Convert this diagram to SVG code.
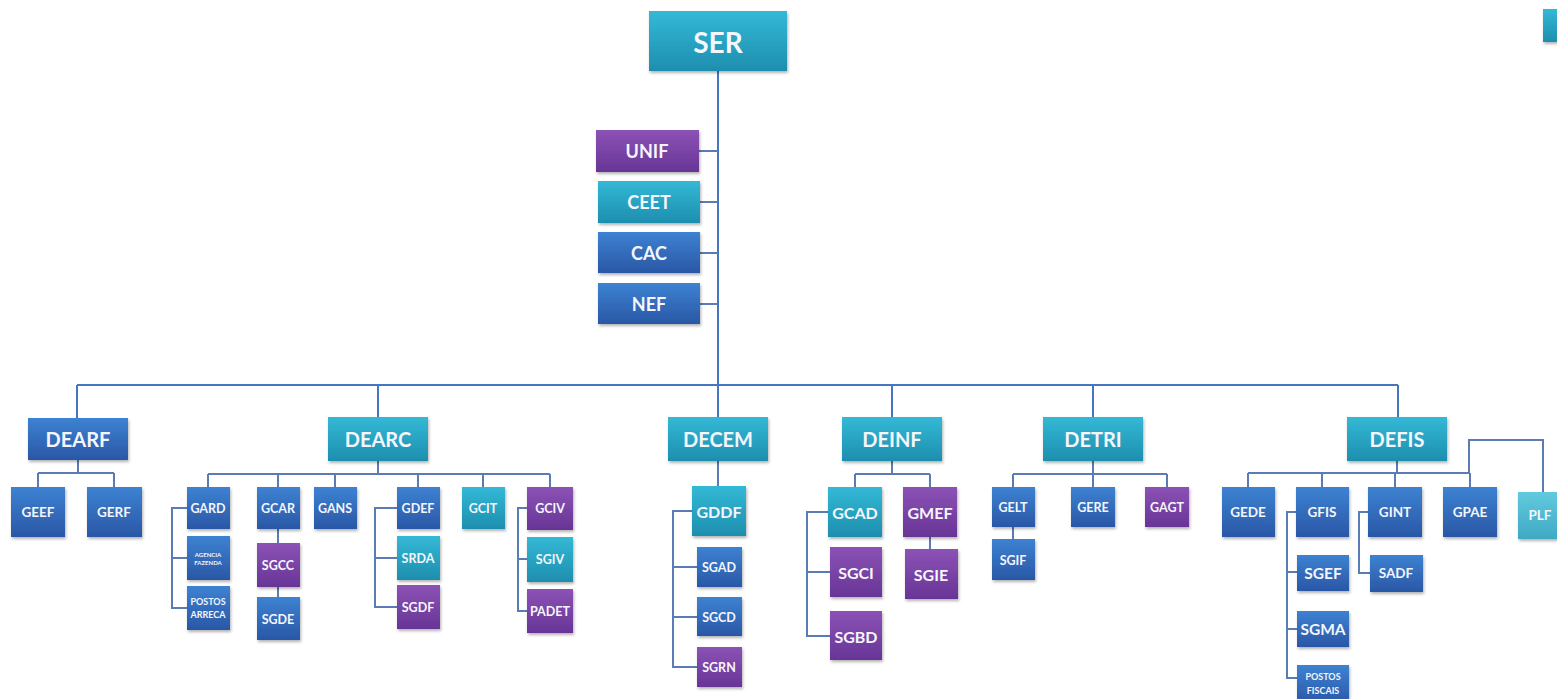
<svg xmlns="http://www.w3.org/2000/svg" width="1557" height="699" viewBox="0 0 1557 699">
<defs>
<linearGradient id="gb" x1="0" y1="0" x2="0" y2="1"><stop offset="0" stop-color="#3d82d2"/><stop offset="1" stop-color="#2a57a6"/></linearGradient>
<linearGradient id="gt" x1="0" y1="0" x2="0" y2="1"><stop offset="0" stop-color="#33b9d6"/><stop offset="1" stop-color="#1e8eae"/></linearGradient>
<linearGradient id="gp" x1="0" y1="0" x2="0" y2="1"><stop offset="0" stop-color="#8c52b5"/><stop offset="1" stop-color="#673596"/></linearGradient>
<linearGradient id="gl" x1="0" y1="0" x2="0" y2="1"><stop offset="0" stop-color="#62cade"/><stop offset="1" stop-color="#3fa9c4"/></linearGradient>
<filter id="sh" x="-20%" y="-20%" width="150%" height="150%"><feDropShadow dx="1" dy="2" stdDeviation="1.6" flood-color="#000" flood-opacity="0.3"/></filter>
</defs>
<style>
.b{fill:url(#gb);filter:url(#sh)}
.t{fill:url(#gt);filter:url(#sh)}
.p{fill:url(#gp);filter:url(#sh)}
.l{fill:url(#gl);filter:url(#sh)}
text{font-family:"Lato","Open Sans","DejaVu Sans",sans-serif;font-weight:bold;fill:#f4f6fb;text-anchor:middle;dominant-baseline:central}
.c{fill:none;stroke:#5a7bb3;stroke-width:2}
.m{fill:none;stroke:#4676c2;stroke-width:2}
.xl{font-size:28px}.lg{font-size:20px}.ml{font-size:18px}.md{font-size:16px}.s2{font-size:13.5px}.sm{font-size:12.5px}.xs{font-size:9px}.xxs{font-size:6px}.sg{font-size:15.5px}
</style>
<rect width="1557" height="699" fill="#ffffff"/>
<g id="connectors">
<path class="m" d="M718 71V417M77 385H1398M77 385V418M378 385V417M892 385V417M1093 385V417M1398 385V417"/>
<path class="c" d="M699 151H718M700 202H718M700 253H718M700 304H718"/>
<path class="c" d="M78 460V473M38 473H114M38 473V487M114 473V487"/>
<path class="c" d="M378 461V474M208 474H550M208 474V487M278 474V487M335 474V487M418 474V487M483 474V487M550 474V487"/>
<path class="c" d="M187 508H172V608H187M172 558H187M278 529V543M278 587V597M397 508H375V607H397M375 558H397M527 508H518V611H527M518 559H527"/>
<path class="c" d="M718 461V486M692 511H673V667H697M673 567H697M673 617H697"/>
<path class="c" d="M892 461V474M855 474H930M855 474V487M930 474V487M828 512H807V636H830M807 572H830M930 537V549"/>
<path class="c" d="M1093 461V474M1013 474H1167M1013 474V487M1093 474V487M1167 474V487M1013 527V539"/>
<path class="c" d="M1397 461V473M1248 473H1470M1248 473V487M1322 473V487M1395 473V487M1470 473V487M1469 473V440H1543V492"/>
<path class="c" d="M1296 512H1287V678H1297M1287 572H1297M1287 629H1297M1368 512H1359V573H1370"/>
</g>
<g id="n-ser"><rect class="t" x="649" y="11" width="138" height="60"/><text class="xl" x="718" y="42">SER</text></g>
<g id="n-unif"><rect class="p" x="596" y="130" width="103" height="42"/><text class="ml" x="647" y="151">UNIF</text></g>
<g id="n-ceet"><rect class="t" x="598" y="181" width="102" height="42"/><text class="ml" x="649" y="202">CEET</text></g>
<g id="n-cac"><rect class="b" x="598" y="232" width="102" height="41"/><text class="ml" x="649" y="253">CAC</text></g>
<g id="n-nef"><rect class="b" x="598" y="283" width="102" height="41"/><text class="ml" x="649" y="304">NEF</text></g>
<g id="n-corner"><rect class="t" x="1543" y="9" width="20" height="33"/></g>

<g id="n-dearf"><rect class="b" x="28" y="418" width="100" height="42"/><text class="lg" x="78" y="439">DEARF</text></g>
<g id="n-geef"><rect class="b" x="11" y="487" width="54" height="50"/><text class="s2" x="38" y="512">GEEF</text></g>
<g id="n-gerf"><rect class="b" x="87" y="487" width="55" height="50"/><text class="s2" x="114" y="512">GERF</text></g>

<g id="n-dearc"><rect class="t" x="328" y="417" width="100" height="44"/><text class="lg" x="378" y="439">DEARC</text></g>
<g id="n-gard"><rect class="b" x="187" y="487" width="43" height="42"/><text class="sm" x="208" y="508">GARD</text></g>
<g id="n-agencia"><rect class="b" x="187" y="536" width="43" height="44"/><text class="xxs" x="208" y="554">AGENCIA</text><text class="xxs" x="208" y="562">FAZENDA</text></g>
<g id="n-postos-arreca"><rect class="b" x="187" y="586" width="43" height="44"/><text class="xs" x="208" y="601">POSTOS</text><text class="xs" x="208" y="614">ARRECA</text></g>
<g id="n-gcar"><rect class="b" x="257" y="487" width="43" height="42"/><text class="sm" x="278" y="508">GCAR</text></g>
<g id="n-sgcc"><rect class="p" x="257" y="543" width="43" height="44"/><text class="sm" x="278" y="565">SGCC</text></g>
<g id="n-sgde"><rect class="b" x="257" y="597" width="43" height="43"/><text class="sm" x="278" y="619">SGDE</text></g>
<g id="n-gans"><rect class="b" x="314" y="487" width="43" height="42"/><text class="sm" x="335" y="508">GANS</text></g>
<g id="n-gdef"><rect class="b" x="397" y="487" width="43" height="42"/><text class="sm" x="418" y="508">GDEF</text></g>
<g id="n-srda"><rect class="t" x="397" y="536" width="43" height="44"/><text class="sm" x="418" y="558">SRDA</text></g>
<g id="n-sgdf"><rect class="p" x="397" y="585" width="43" height="44"/><text class="sm" x="418" y="607">SGDF</text></g>
<g id="n-gcit"><rect class="t" x="462" y="487" width="43" height="42"/><text class="sm" x="483" y="508">GCIT</text></g>
<g id="n-gciv"><rect class="p" x="527" y="487" width="46" height="43"/><text class="sm" x="550" y="508">GCIV</text></g>
<g id="n-sgiv"><rect class="t" x="527" y="537" width="46" height="45"/><text class="sm" x="550" y="559">SGIV</text></g>
<g id="n-padet"><rect class="p" x="527" y="589" width="46" height="44"/><text class="sm" x="550" y="611">PADET</text></g>

<g id="n-decem"><rect class="t" x="668" y="417" width="100" height="44"/><text class="lg" x="718" y="439">DECEM</text></g>
<g id="n-gddf"><rect class="t" x="692" y="486" width="54" height="50"/><text class="md" x="719" y="511">GDDF</text></g>
<g id="n-sgad"><rect class="b" x="697" y="547" width="45" height="40"/><text class="sm" x="719" y="567">SGAD</text></g>
<g id="n-sgcd"><rect class="b" x="697" y="597" width="45" height="39"/><text class="sm" x="719" y="617">SGCD</text></g>
<g id="n-sgrn"><rect class="p" x="697" y="647" width="45" height="40"/><text class="sm" x="719" y="667">SGRN</text></g>

<g id="n-deinf"><rect class="t" x="842" y="417" width="100" height="44"/><text class="lg" x="892" y="439">DEINF</text></g>
<g id="n-gcad"><rect class="t" x="828" y="487" width="54" height="50"/><text class="md" x="855" y="512">GCAD</text></g>
<g id="n-gmef"><rect class="p" x="903" y="487" width="54" height="50"/><text class="md" x="930" y="512">GMEF</text></g>
<g id="n-sgci"><rect class="p" x="830" y="547" width="52" height="50"/><text class="md" x="856" y="572">SGCI</text></g>
<g id="n-sgbd"><rect class="p" x="830" y="611" width="52" height="49"/><text class="md" x="856" y="636">SGBD</text></g>
<g id="n-sgie"><rect class="p" x="905" y="549" width="53" height="50"/><text class="md" x="931" y="574">SGIE</text></g>

<g id="n-detri"><rect class="t" x="1043" y="417" width="100" height="44"/><text class="lg" x="1093" y="439">DETRI</text></g>
<g id="n-gelt"><rect class="b" x="992" y="487" width="43" height="40"/><text class="sm" x="1013" y="507">GELT</text></g>
<g id="n-gere"><rect class="b" x="1071" y="487" width="44" height="40"/><text class="sm" x="1093" y="507">GERE</text></g>
<g id="n-gagt"><rect class="p" x="1145" y="487" width="44" height="40"/><text class="sm" x="1167" y="507">GAGT</text></g>
<g id="n-sgif"><rect class="b" x="992" y="539" width="43" height="41"/><text class="sm" x="1013" y="560">SGIF</text></g>

<g id="n-defis"><rect class="t" x="1347" y="417" width="100" height="44"/><text class="lg" x="1397" y="439">DEFIS</text></g>
<g id="n-gede"><rect class="b" x="1222" y="487" width="53" height="50"/><text class="s2" x="1248" y="512">GEDE</text></g>
<g id="n-gfis"><rect class="b" x="1296" y="487" width="53" height="50"/><text class="s2" x="1322" y="512">GFIS</text></g>
<g id="n-gint"><rect class="b" x="1368" y="487" width="54" height="50"/><text class="s2" x="1395" y="512">GINT</text></g>
<g id="n-gpae"><rect class="b" x="1443" y="487" width="54" height="50"/><text class="s2" x="1470" y="512">GPAE</text></g>
<g id="n-plf"><rect class="l" x="1518" y="492" width="50" height="47"/><text class="s2" x="1540" y="515">PLF</text></g>
<g id="n-sgef"><rect class="b" x="1297" y="555" width="52" height="36"/><text class="sg" x="1323" y="573">SGEF</text></g>
<g id="n-sgma"><rect class="b" x="1297" y="611" width="52" height="36"/><text class="sg" x="1323" y="629">SGMA</text></g>
<g id="n-postos-fiscais"><rect class="b" x="1297" y="665" width="52" height="40"/><text class="xs" x="1323" y="676">POSTOS</text><text class="xs" x="1323" y="690">FISCAIS</text></g>
<g id="n-sadf"><rect class="b" x="1370" y="555" width="53" height="37"/><text class="s2" x="1396" y="573">SADF</text></g>
</svg>
